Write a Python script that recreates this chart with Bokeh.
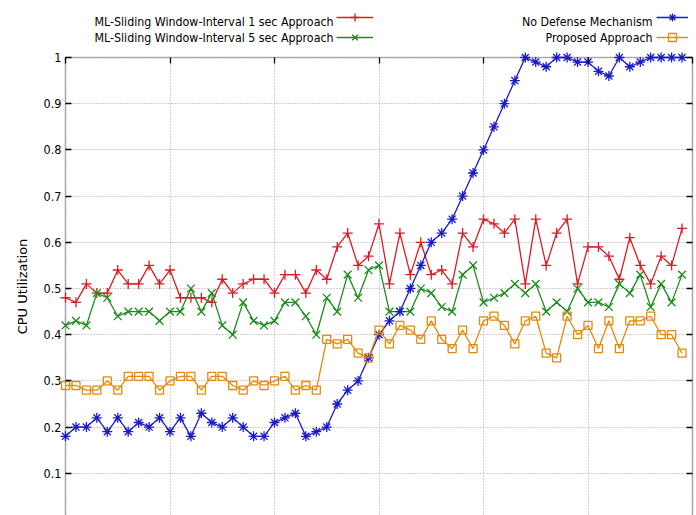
from bokeh.plotting import figure
from bokeh.models import (Range1d, FixedTicker, LinearAxis, Legend, LegendItem,
                          Label, Grid, BoxAnnotation)
from bokeh.embed import file_html
from bokeh.resources import INLINE

# ---------------- data ----------------
x_vals = list(range(60))

ml_1sec = [0.48, 0.47, 0.51, 0.49, 0.49, 0.54, 0.51, 0.51, 0.55, 0.51,
           0.54, 0.48, 0.48, 0.48, 0.47, 0.52, 0.49, 0.51, 0.52, 0.52,
           0.49, 0.53, 0.53, 0.49, 0.54, 0.52, 0.59, 0.62, 0.55, 0.57,
           0.64, 0.51, 0.62, 0.53, 0.60, 0.53, 0.54, 0.51, 0.62, 0.59,
           0.65, 0.64, 0.62, 0.65, 0.51, 0.65, 0.55, 0.62, 0.65, 0.51,
           0.59, 0.59, 0.57, 0.52, 0.61, 0.55, 0.51, 0.57, 0.55, 0.63]

ml_5sec = [0.42, 0.43, 0.42, 0.49, 0.48, 0.44, 0.45, 0.45, 0.45, 0.43,
           0.45, 0.45, 0.50, 0.45, 0.49, 0.42, 0.40, 0.47, 0.43, 0.42,
           0.43, 0.47, 0.47, 0.44, 0.40, 0.48, 0.45, 0.53, 0.48, 0.54,
           0.55, 0.45, 0.45, 0.45, 0.50, 0.49, 0.46, 0.45, 0.53, 0.55,
           0.47, 0.48, 0.49, 0.51, 0.49, 0.51, 0.45, 0.47, 0.45, 0.50,
           0.47, 0.47, 0.46, 0.51, 0.49, 0.53, 0.46, 0.51, 0.47, 0.53]

no_defense = [0.18, 0.20, 0.20, 0.22, 0.19, 0.22, 0.19, 0.21, 0.20, 0.22,
              0.19, 0.22, 0.18, 0.23, 0.21, 0.20, 0.22, 0.20, 0.18, 0.18,
              0.21, 0.22, 0.23, 0.18, 0.19, 0.20, 0.25, 0.28, 0.30, 0.35,
              0.40, 0.43, 0.45, 0.50, 0.55, 0.60, 0.62, 0.65, 0.70, 0.75,
              0.80, 0.85, 0.90, 0.95, 1.00, 0.99, 0.98, 1.00, 1.00, 0.99,
              0.99, 0.97, 0.96, 1.00, 0.98, 0.99, 1.00, 1.00, 1.00, 1.00]

proposed = [0.29, 0.29, 0.28, 0.28, 0.30, 0.28, 0.31, 0.31, 0.31, 0.28,
            0.30, 0.31, 0.31, 0.28, 0.31, 0.31, 0.29, 0.28, 0.30, 0.29,
            0.30, 0.31, 0.28, 0.29, 0.28, 0.39, 0.38, 0.39, 0.36, 0.35,
            0.41, 0.38, 0.42, 0.41, 0.39, 0.43, 0.39, 0.37, 0.41, 0.37,
            0.43, 0.44, 0.42, 0.38, 0.43, 0.44, 0.36, 0.35, 0.44, 0.40,
            0.42, 0.37, 0.43, 0.37, 0.43, 0.43, 0.44, 0.40, 0.40, 0.36]

y_ticks = [0, 0.1, 0.2, 0.3, 0.4, 0.5, 0.6, 0.7, 0.8, 0.9, 1]
y_tick_labels = ["0", "0.1", "0.2", "0.3", "0.4", "0.5", "0.6", "0.7", "0.8", "0.9", "1"]
x_ticks = [0, 10, 20, 30, 40, 50, 60]

series_names = ["ML-Sliding Window-Interval 1 sec Approach",
                "ML-Sliding Window-Interval 5 sec Approach",
                "No Defense Mechanism",
                "Proposed Approach"]
y_label = "CPU Utilization"

X_MIN, X_MAX = 0, 60
Y_MIN, Y_MAX = 0, 1

# ---------------- styles ----------------
FONT = "DejaVu Sans Condensed"
RED = "#d81e24"
GREEN = "#1c8c1c"
BLUE = "#1a1ac8"
ORANGE = "#e38a0c"
GRID = "#a0a0a0"

# whole canvas is the frame; the data box sits at 65..692 px, 57.. px
PX_X = 10.45   # px per x unit
PX_Y = 462.0   # px per y unit
W, H = 696, 515
x_range = Range1d(X_MIN - 65 / PX_X, X_MAX + (W - 692) / PX_X)
y_range = Range1d(Y_MAX - (H - 57) / PX_Y, Y_MAX + 57 / PX_Y)

p = figure(width=W, height=H, x_range=x_range, y_range=y_range,
           x_axis_type=None, y_axis_type=None,
           output_backend="svg", toolbar_location=None, min_border=0)
p.outline_line_color = None
p.background_fill_color = "white"
p.border_fill_color = "white"

# grids
xg = Grid(dimension=0, ticker=FixedTicker(ticks=x_ticks),
          grid_line_color=GRID, grid_line_dash="1 2", grid_line_width=1)
yg = Grid(dimension=1, ticker=FixedTicker(ticks=y_ticks),
          grid_line_color=GRID, grid_line_dash="1 2", grid_line_width=1)
p.add_layout(xg)
p.add_layout(yg)

# white masks to keep the grid inside the data box
xs0, xs1 = x_range.start - 5, x_range.end + 5
ys0, ys1 = y_range.start - 1, y_range.end + 1
for kw in (dict(left=xs0, right=X_MIN, bottom=ys0, top=ys1),
           dict(left=X_MAX, right=xs1, bottom=ys0, top=ys1),
           dict(left=xs0, right=xs1, bottom=Y_MAX, top=ys1)):
    p.add_layout(BoxAnnotation(fill_color="white", fill_alpha=1, line_color=None,
                               level="underlay", **kw))
# box border
p.add_layout(BoxAnnotation(left=X_MIN, right=X_MAX, bottom=Y_MIN, top=Y_MAX,
                           fill_alpha=0, line_color="black", line_width=1.6,
                           level="underlay"))

def tick_style(ax):
    ax.major_tick_in = 6
    ax.major_tick_out = 0
    ax.minor_tick_line_color = None
    ax.axis_line_color = None
    ax.major_tick_line_color = "black"
    ax.major_tick_line_width = 1.3

# left axis
ya = LinearAxis(fixed_location=X_MIN, bounds=(Y_MIN, Y_MAX),
                ticker=FixedTicker(ticks=y_ticks))
tick_style(ya)
ya.major_label_overrides = {t: l for t, l in zip(y_ticks, y_tick_labels)}
ya.major_label_standoff = 4
ya.major_label_text_font = FONT
ya.major_label_text_font_size = "12.5px"
ya.major_label_text_color = "black"
ya.axis_label = y_label
ya.axis_label_text_font = "DejaVu Sans"
ya.axis_label_text_font_size = "13px"
ya.axis_label_text_font_style = "normal"
ya.axis_label_text_color = "black"
ya.axis_label_standoff = 11
p.add_layout(ya, "left")

# right axis (ticks only)
ra = LinearAxis(fixed_location=X_MAX, bounds=(Y_MIN, Y_MAX),
                ticker=FixedTicker(ticks=y_ticks))
tick_style(ra)
ra.major_label_text_color = None
p.add_layout(ra, "right")

# top axis (ticks only)
ta = LinearAxis(fixed_location=Y_MAX, bounds=(X_MIN, X_MAX),
                ticker=FixedTicker(ticks=x_ticks))
tick_style(ta)
ta.major_label_text_color = None
p.add_layout(ta, "above")

# ---------------- series ----------------
specs = [
    (ml_1sec, RED, "cross", 10),
    (ml_5sec, GREEN, "x", 11),
    (no_defense, BLUE, "asterisk", 10),
    (proposed, ORANGE, "square", 8),
]
items = []
for vals, col, mk, sz in specs:
    lr = p.line(x_vals, vals, line_color=col, line_width=1.3)
    sr = p.scatter(x_vals, vals, marker=mk, size=sz, line_color=col,
                   fill_color=None, line_width=1.3)
    items.append([lr, sr])

# ---------------- legend (text left of sample) ----------------
def make_legend(its, x, gw):
    lg = Legend(items=[LegendItem(label=" ", renderers=r) for r in its],
                location=(x, H - 47), orientation="vertical",
                glyph_width=gw, glyph_height=20, label_width=0, label_height=20,
                label_standoff=0, padding=0, margin=0, spacing=-4,
                label_text_color=None,
                border_line_alpha=0, background_fill_alpha=0)
    p.add_layout(lg)

make_legend(items[0:2], 336, 37)
make_legend(items[2:4], 656, 32)

def px_to_x(px):
    return X_MIN + (px - 65) / PX_X

def px_to_y(py):
    return Y_MAX + (57 - py) / PX_Y

label_pos = [(333, 21), (333, 37), (652, 21), (652, 37)]
for name, (lx, ly) in zip(series_names, label_pos):
    p.add_layout(Label(x=px_to_x(lx), y=px_to_y(ly),
                       text=name, text_align="right", text_baseline="middle",
                       text_font=FONT, text_font_size="12.3px",
                       text_color="black"))

open("out.html", "w").write(file_html(p, INLINE))
